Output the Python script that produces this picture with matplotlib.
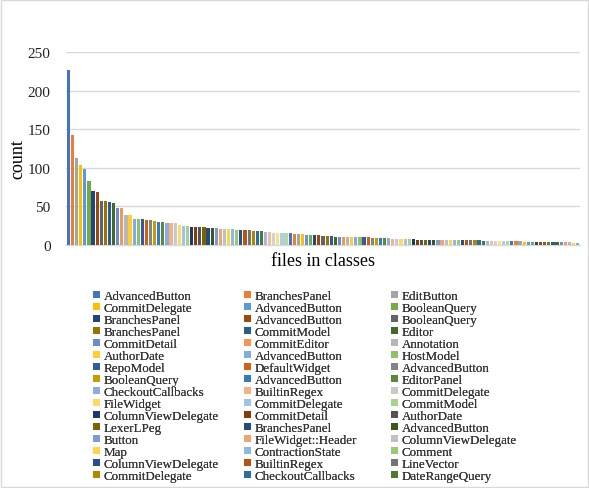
import colorsys

import matplotlib
matplotlib.use("Agg")
import matplotlib.colors as mcolors
import matplotlib.pyplot as plt
from matplotlib.patches import Patch, Rectangle

# bar heights, sorted descending (one bar per class)
counts = [
    227, 143, 113, 103, 98, 83, 70, 69, 57, 57, 56, 55, 48, 48, 39,
    39, 34, 34, 34, 33, 32, 31, 30, 30, 29, 28, 28, 26, 25, 25, 23, 23, 23, 23, 22,
    22, 22, 21, 21, 21, 21, 20, 20, 19, 19, 18, 18, 18, 17, 17, 16, 16, 15, 15, 15,
    14, 14, 14, 13, 13, 13, 13, 12, 12, 12, 11, 11, 11, 11, 10, 10, 10, 10, 10, 9,
    9, 9, 9, 9, 8, 8, 8, 8, 8, 8, 7, 7, 7, 7, 7, 7, 7, 6, 6, 6,
    6, 6, 6, 6, 6, 6, 5, 5, 5, 5, 5, 5, 5, 5, 5, 5, 4, 4, 4, 4,
    4, 4, 4, 4, 4, 4, 4, 4, 3, 3,
]

# class names of the first bars (the legend only has room for these)
classes = [
    "AdvancedButton", "BranchesPanel", "EditButton",
    "CommitDelegate", "AdvancedButton", "BooleanQuery",
    "BranchesPanel", "AdvancedButton", "BooleanQuery",
    "BranchesPanel", "CommitModel", "Editor",
    "CommitDetail", "CommitEditor", "Annotation",
    "AuthorDate", "AdvancedButton", "HostModel",
    "RepoModel", "DefaultWidget", "AdvancedButton",
    "BooleanQuery", "AdvancedButton", "EditorPanel",
    "CheckoutCallbacks", "BuiltinRegex", "CommitDelegate",
    "FileWidget", "CommitDelegate", "CommitModel",
    "ColumnViewDelegate", "CommitDetail", "AuthorDate",
    "LexerLPeg", "BranchesPanel", "AdvancedButton",
    "Button", "FileWidget::Header", "ColumnViewDelegate",
    "Map", "ContractionState", "Comment",
    "ColumnViewDelegate", "BuiltinRegex", "LineVector",
    "CommitDelegate", "CheckoutCallbacks", "DateRangeQuery",
]

yticks = [0, 50, 100, 150, 200, 250]

ACCENTS = ["#4472C4", "#ED7D31", "#A5A5A5", "#FFC000", "#5B9BD5", "#70AD47"]
# (lum_mod, lum_off) shade variants, Office-style series cycle
SHADES = [(1.0, 0.0), (0.6, 0.0), (0.8, 0.2), (0.8, 0.0), (0.6, 0.4),
          (0.5, 0.0), (0.7, 0.3), (0.7, 0.0), (0.5, 0.5)]


def shade(hex_color, mod, off):
    r, g, b = mcolors.to_rgb(hex_color)
    h, l, s = colorsys.rgb_to_hls(r, g, b)
    l = min(1.0, l * mod + off)
    return colorsys.hls_to_rgb(h, l, s)


def series_color(i):
    mod, off = SHADES[(i // 6) % len(SHADES)]
    return shade(ACCENTS[i % 6], mod, off)


plt.rcParams["font.family"] = ["Liberation Serif", "DejaVu Serif"]

W, H = 589, 489
fig = plt.figure(figsize=(W / 100, H / 100), dpi=100)
fig.patches.append(Rectangle((0.002, 0.002), 0.996, 0.996, transform=fig.transFigure,
                             fill=False, edgecolor="#D9D9D9", linewidth=1.0))
ax = fig.add_axes([66 / W, 1 - 246 / H, 514 / W, 193 / H])

colors = [series_color(i) for i in range(len(counts))]
ax.bar(range(len(counts)), counts, width=0.78, color=colors, zorder=3)

ax.set_xlim(-0.6, len(counts) - 0.4)
ax.set_ylim(0, 250)
ax.set_yticks(yticks)
ax.set_xticks([])
ax.tick_params(axis="y", length=0, labelsize=11, pad=11, colors="#222222")
ax.grid(axis="y", color="#D9D9D9", linewidth=1.0, zorder=0)
for side in ("top", "right", "left"):
    ax.spines[side].set_visible(False)
ax.spines["bottom"].set_color("#D9D9D9")
ax.spines["bottom"].set_linewidth(1.0)

ax.set_ylabel("count", fontsize=13)
ax.yaxis.set_label_coords(-0.078, 0.45)
ax.set_xlabel("files in classes", fontsize=13, labelpad=5)

# legend laid out row by row, one legend per column
handles = [Patch(facecolor=colors[i], label=classes[i]) for i in range(len(classes))]
col_x = [93, 244, 391]
for c, x in enumerate(col_x):
    leg = fig.legend(handles=handles[c::3], loc="upper left",
                     bbox_to_anchor=(x / W, 1 - 291 / H), frameon=False,
                     fontsize=9.4, handlelength=0.5, handleheight=0.5,
                     handletextpad=0.3, labelspacing=0.0, borderpad=0,
                     borderaxespad=0, labelcolor="#333333")
    fig.add_artist(leg)

fig.savefig("out.png", dpi=100)
